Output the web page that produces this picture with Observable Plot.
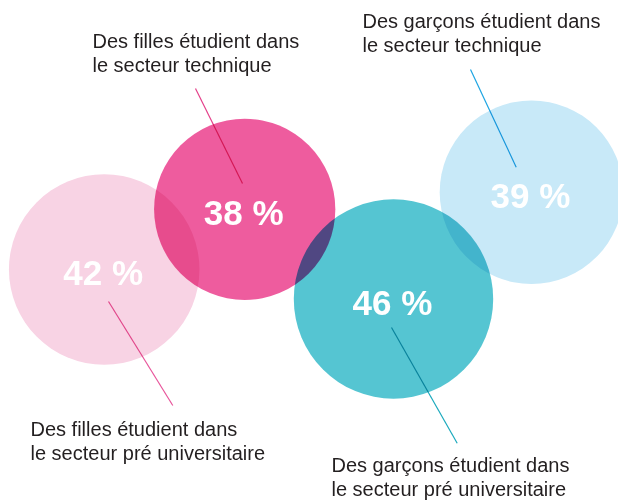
<!DOCTYPE html>
<html>
<head>
<meta charset="utf-8">
<script src="https://cdn.jsdelivr.net/npm/d3@7"></script>
<script src="https://cdn.jsdelivr.net/npm/@observablehq/plot@0.6"></script>
<style>
  html, body { margin: 0; padding: 0; background: #fff; }
  #chart svg { display: block; }
</style>
</head>
<body>
<div id="chart"></div>
<script>
// ---- data ----
const groups = ["Filles – pré universitaire", "Filles – technique", "Garçons – pré universitaire", "Garçons – technique"];
const values = [42, 38, 46, 39];
const captions = [
  "Des filles étudient dans\nle secteur pré universitaire",
  "Des filles étudient dans\nle secteur technique",
  "Des garçons étudient dans\nle secteur pré universitaire",
  "Des garçons étudient dans\nle secteur technique"
];

// ---- styles ----
const circleColors = ["#f8d3e4", "#ee5c9e", "#55c5d2", "#c8e9f8"];
const leaderColors = ["#e8559b", "#e4408a", "#1aa9bd", "#1ca4e2"];

// ---- layout (illustration positions, in pixels) ----
const centerX = [103.7, 244.2, 393, 531];
const centerY = [269, 208.8, 298.5, 191.7];
const captionX = [30, 92, 331, 362];
const captionY = [418.7, 30.3, 454.7, 10.3];
const leaderX1 = [108, 242, 391, 515.7];
const leaderY1 = [301, 183, 327, 166.7];
const leaderX2 = [172.3, 195, 456.7, 470];
const leaderY2 = [405, 88, 442.7, 69];

const rows = groups.map((g, i) => ({
  group: g, value: values[i], caption: captions[i],
  cx: centerX[i], cy: centerY[i],
  tx: captionX[i], ty: captionY[i],
  x1: leaderX1[i], y1: leaderY1[i], x2: leaderX2[i], y2: leaderY2[i],
  fill: circleColors[i], line: leaderColors[i]
}));

const chart = Plot.plot({
  width: 618,
  height: 500,
  margin: 0,
  x: {domain: [0, 618], range: [0, 618], axis: null},
  y: {domain: [0, 500], range: [0, 500], axis: null},
  r: {type: "sqrt", domain: [0, 46], range: [0, 99.7]},
  color: {type: "identity"},
  style: {background: "#fff"},
  marks: [
    Plot.link(rows, {x1: "x1", y1: "y1", x2: "x2", y2: "y2", stroke: "line", strokeWidth: 1.2}),
    ...rows.map(d => Plot.dot([d], {
      x: "cx", y: "cy", r: "value", fill: d.fill, stroke: null,
      fillOpacity: 1, mixBlendMode: "multiply"
    })),
    Plot.text(rows, {
      x: "cx", y: "cy", text: d => d.value + " %",
      fill: "#fff", fontSize: 35, fontWeight: "bold",
      fontFamily: "'Liberation Sans', Arial, Helvetica, sans-serif",
      textAnchor: "middle", dy: 4.5, dx: -1
    }),
    Plot.text(rows, {
      x: "tx", y: "ty", text: "caption",
      fill: "#231f20", fontSize: 20, lineHeight: 1.2, lineAnchor: "top",
      fontFamily: "'Liberation Sans', Arial, Helvetica, sans-serif",
      textAnchor: "start"
    })
  ]
});
document.getElementById("chart").appendChild(chart);
</script>
</body>
</html>
